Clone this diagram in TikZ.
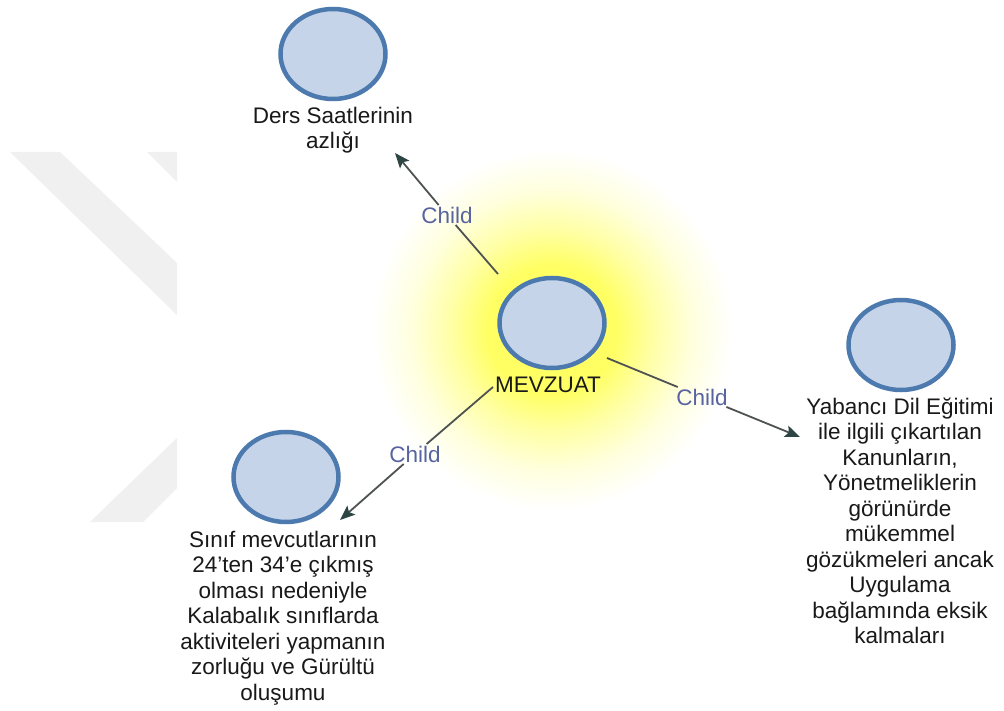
\documentclass[tikz,border=0pt]{standalone}
\usepackage{fontspec}
\setmainfont{Liberation Sans}
\usetikzlibrary{arrows.meta,shapes.geometric}

\definecolor{nodefill}{RGB}{197,212,233}
\definecolor{nodeline}{RGB}{76,122,174}
\definecolor{edgeline}{RGB}{78,82,82}
\definecolor{tipcol}{RGB}{45,70,68}
\definecolor{labcol}{RGB}{88,100,160}
\definecolor{markgray}{RGB}{240,240,240}
\definecolor{txtcol}{RGB}{25,25,25}
\definecolor{glowA}{RGB}{255,255,100}
\definecolor{glowB}{RGB}{255,255,165}
\definecolor{glowC}{RGB}{255,255,222}

% soft yellow halo around the selected topic
% (TikZ fits the middle 50bp of a radial shading to the path)
\pgfdeclareradialshading{halo}{\pgfpoint{0bp}{0bp}}{%
  color(0bp)=(glowA); color(9bp)=(glowA); color(14bp)=(glowB);
  color(19.5bp)=(glowC); color(25bp)=(white); color(50bp)=(white)}

\tikzset{
  topic/.style={ellipse, draw=nodeline, fill=nodefill, line width=4.5pt,
    minimum width=105pt, minimum height=90pt, inner sep=0pt},
  caption/.style={align=center, text=txtcol, inner sep=0pt,
    font=\fontsize{22.5}{25.5}\selectfont},
  rel/.style={text=labcol, inner sep=1.5pt, font=\fontsize{22.5}{25}\selectfont},
  link/.style={draw=edgeline, line width=1.8pt},
  linkto/.style={link, -{Stealth[length=15pt,width=12pt,inset=3pt,color=tipcol]}}
}

\begin{document}
\begin{tikzpicture}[x=1pt,y=-1pt]
  \fill[white] (0,0) rectangle (1004,711);
  \useasboundingbox (0,0) rectangle (1004,711);

  % faint background mark
  \fill[markgray] (10,152) -- (60,152) -- (177,263) -- (177,315) -- cycle;
  \fill[markgray] (147,152) -- (177,152) -- (177,182) -- cycle;
  \fill[markgray] (90,522) -- (143,522) -- (177,488) -- (177,438) -- cycle;

  % halo
  \shade[shading=halo] (552,330) circle (180pt);

  % topics
  \node[topic] (mev) at (552,323) {};
  \node[caption] (mevt) at (548,385) {MEVZUAT};

  \node[topic] (ders) at (333,54) {};
  \node[caption] (derst) at (333,130) {Ders Saatlerinin\\azlığı};

  \node[topic] (sinif) at (286,477) {};
  \node[caption] (sinift) at (283,618) {Sınıf mevcutlarının\\24'ten 34'e çıkmış\\olması nedeniyle\\Kalabalık sınıflarda\\aktiviteleri yapmanın\\zorluğu ve Gürültü\\oluşumu};

  \node[topic] (yab) at (901,345) {};
  \node[caption] (yabt) at (900,521) {Yabancı Dil Eğitimi\\ile ilgili çıkartılan\\Kanunların,\\Yönetmeliklerin\\görünürde\\mükemmel\\gözükmeleri ancak\\Uygulama\\bağlamında eksik\\kalmaları};

  % connector ends
  \coordinate (s1) at (498,274);
  \coordinate (t1) at (395,153);
  \coordinate (s2) at (607,358);
  \coordinate (t2) at (800,437);
  \coordinate (s3) at (493,387);
  \coordinate (t3) at (340,520);

  % relation labels
  \node[rel] (r1) at (447,215) {Child};
  \node[rel] (r2) at (702,397) {Child};
  \node[rel] (r3) at (415,454) {Child};

  % connectors
  \draw[link] (s1) -- (r1);
  \draw[linkto] (r1) -- (t1);
  \draw[link] (s2) -- (r2);
  \draw[linkto] (r2) -- (t2);
  \draw[link] (s3) -- (r3);
  \draw[linkto] (r3) -- (t3);
\end{tikzpicture}
\end{document}
